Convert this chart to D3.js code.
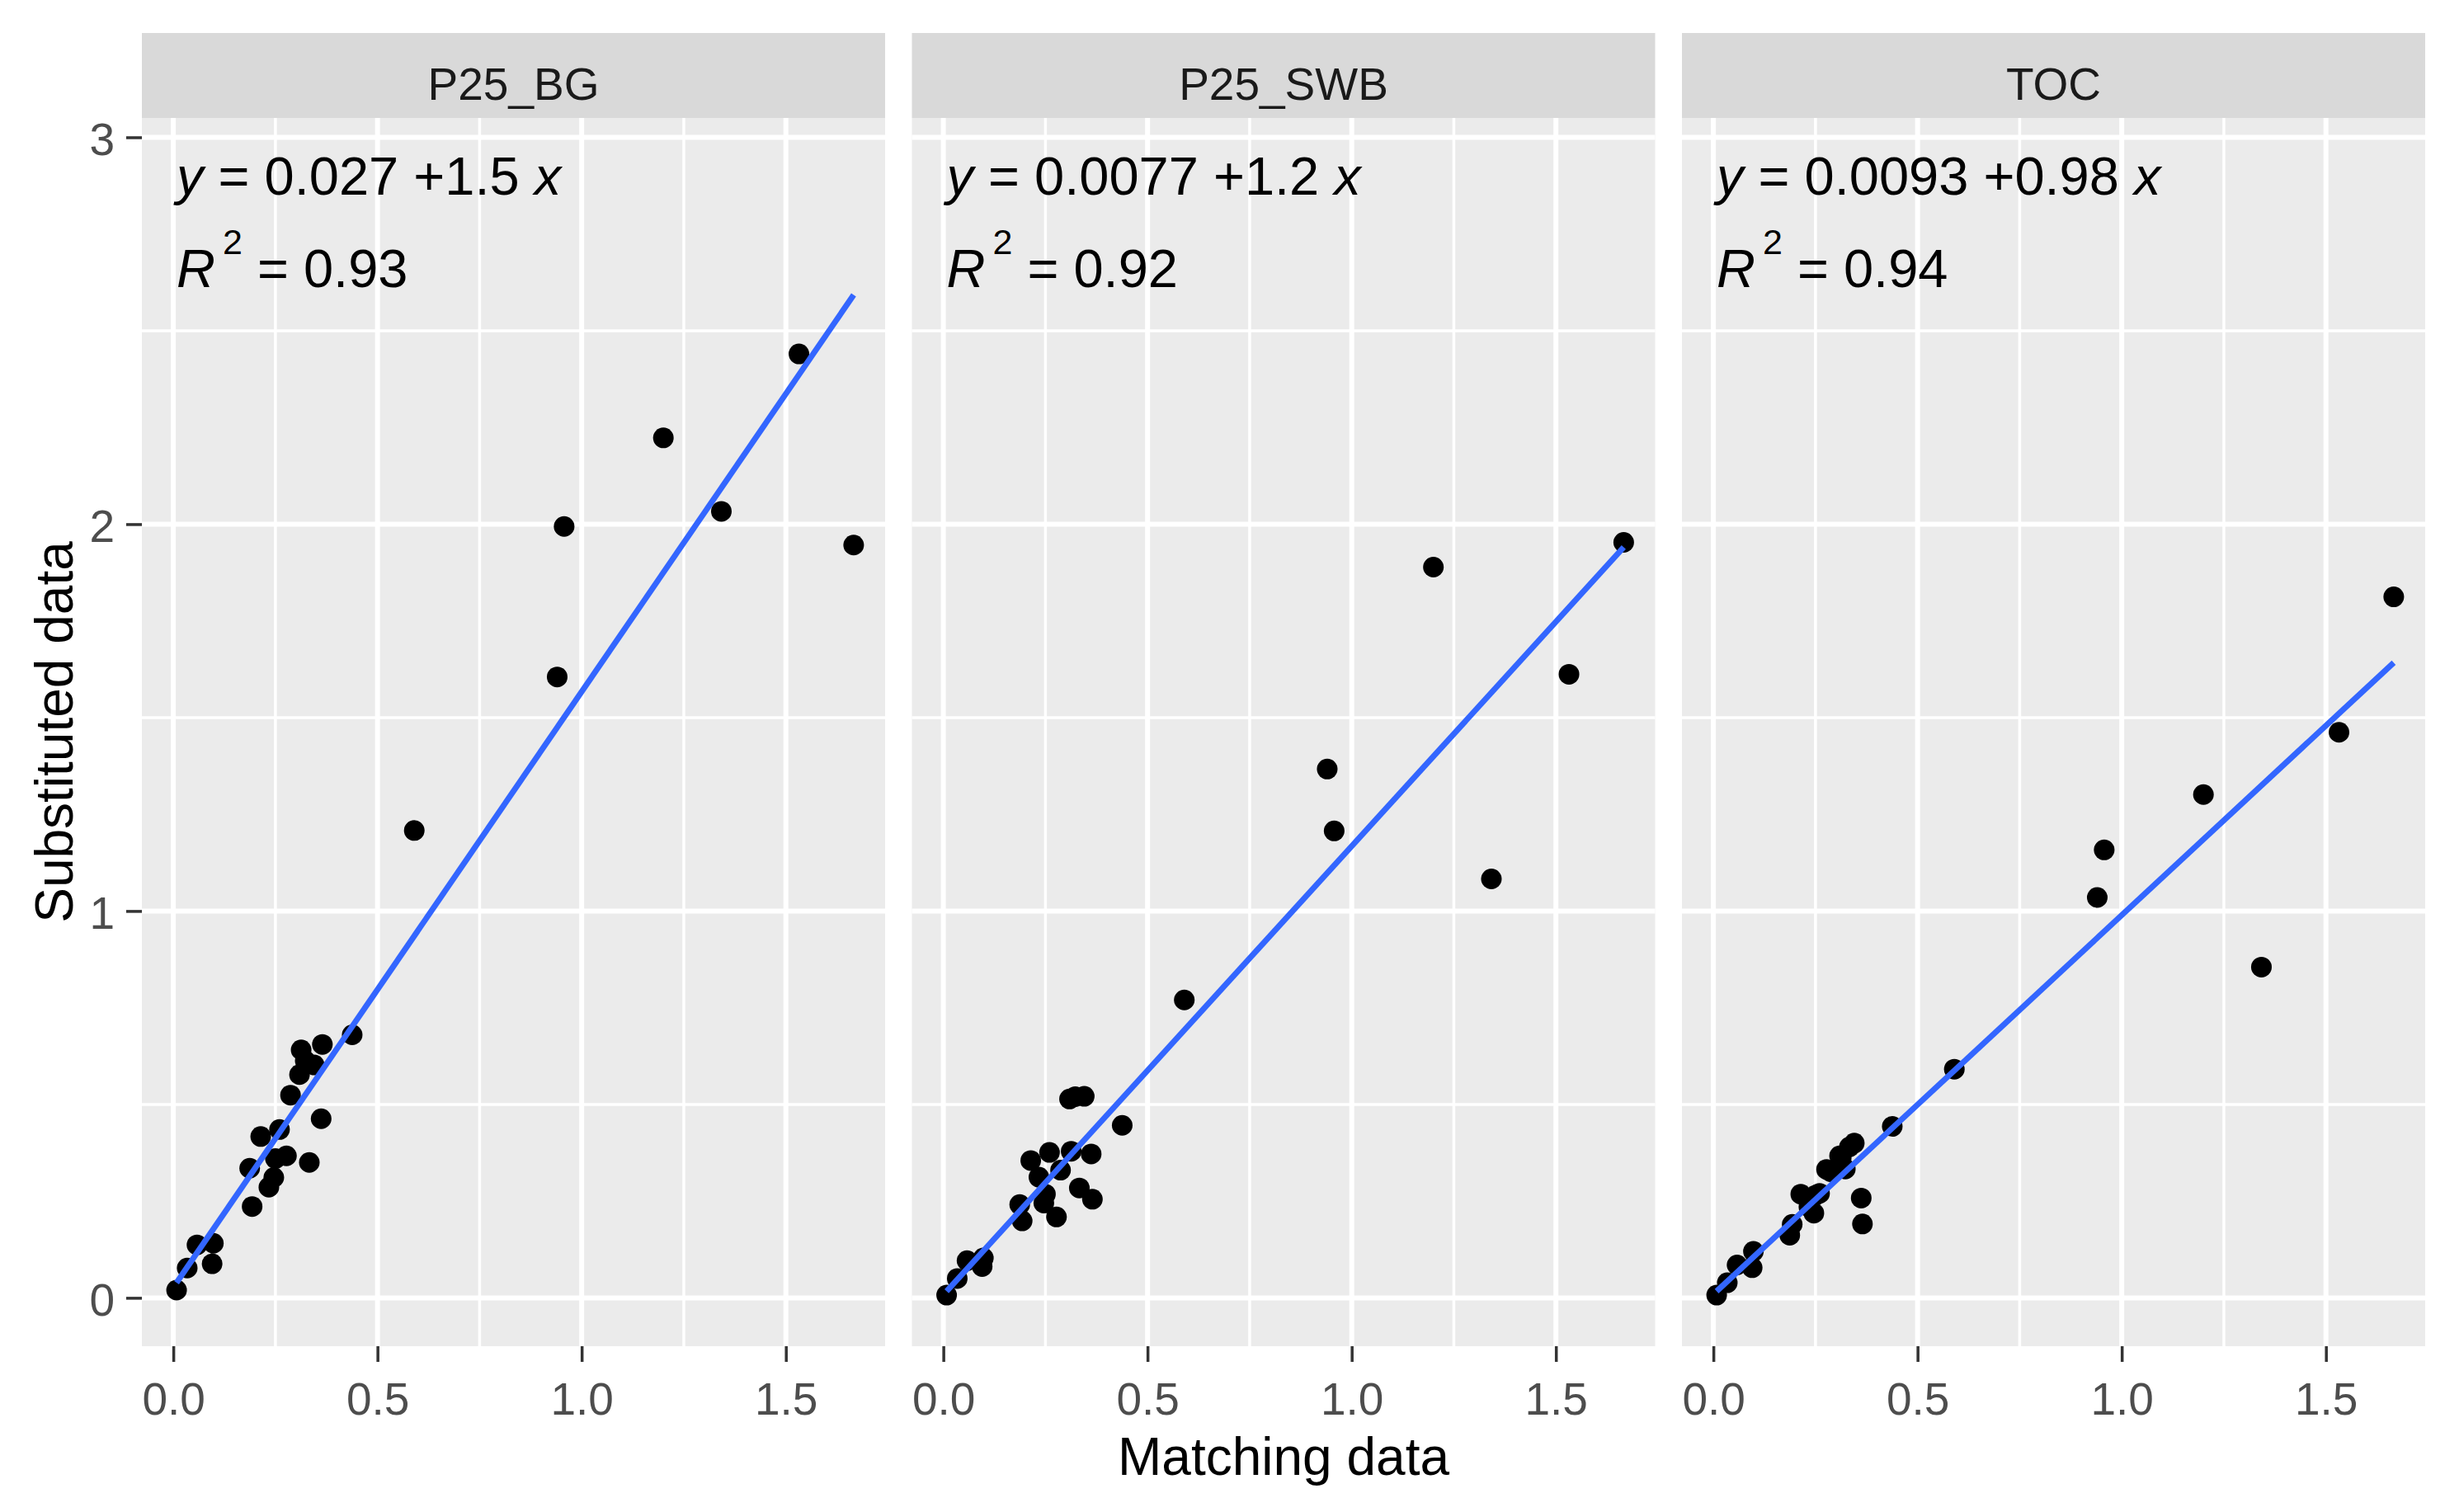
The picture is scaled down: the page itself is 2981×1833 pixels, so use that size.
<!DOCTYPE html>
<html>
<head>
<meta charset="utf-8">
<script src="https://cdn.jsdelivr.net/npm/d3@7"></script>
<style>
  body { margin: 0; background: #fff; }
  svg text { font-family: "Liberation Sans", Arial, sans-serif; white-space: pre; }
</style>
</head>
<body>
<svg id="chart"></svg>
<script>
// facet names
const facets = ['P25_BG', 'P25_SWB', 'TOC'];

// x values (shared by all facets)
const matchingData = [0.008, 0.034, 0.058, 0.095, 0.098, 0.187, 0.193, 0.214, 0.234, 0.246,
    0.25, 0.26, 0.277, 0.287, 0.309, 0.313, 0.323, 0.333, 0.345, 0.362,
    0.365, 0.438, 0.59, 0.94, 0.957, 1.2, 1.342, 1.532, 1.666];

// y values per facet
const substitutedBG = [0.02, 0.077, 0.137, 0.088, 0.141, 0.335, 0.236, 0.417, 0.286, 0.311,
    0.36, 0.435, 0.367, 0.524, 0.577, 0.641, 0.613, 0.35, 0.602, 0.463,
    0.655, 0.68, 1.208, 1.605, 1.994, 2.223, 2.033, 2.44, 1.946];
const substitutedSWB = [0.007, 0.05, 0.096, 0.081, 0.103, 0.241, 0.199, 0.355, 0.312, 0.245,
    0.268, 0.376, 0.209, 0.33, 0.514, 0.379, 0.52, 0.284, 0.521, 0.372,
    0.255, 0.446, 0.77, 1.367, 1.207, 1.889, 1.083, 1.612, 1.953];
const substitutedTOC = [0.007, 0.039, 0.085, 0.078, 0.12, 0.162, 0.19, 0.268, 0.235, 0.219,
    0.265, 0.27, 0.332, 0.326, 0.367, 0.361, 0.333, 0.39, 0.4, 0.258,
    0.191, 0.443, 0.591, 1.035, 1.158, 1.301, 0.855, 1.462, 1.812];

// fitted lines and labels
const intercepts = [0.027, 0.0077, 0.0093];
const slopes = [1.54, 1.16, 0.98];
const rSquared = [0.93, 0.92, 0.94];

// axis breaks
const xTicks = [0, 0.5, 1, 1.5];
const yTicks = [0, 1, 2, 3];

const seriesY = [substitutedBG, substitutedSWB, substitutedTOC];

const width = 2981;
const height = 1833;

// layout (facet_wrap style)
const firstLeft = 172;
const panelW = 901;
const panelGap = 32.5;
const stripTop = 40;
const panelTop = 143;
const panelBottom = 1632;
const panelH = panelBottom - panelTop;

const svg = d3.select('#chart')
    .attr('width', width)
    .attr('height', height)
    .attr('viewBox', [0, 0, width, height]);

svg.append('rect')
    .attr('width', width)
    .attr('height', height)
    .attr('fill', '#fff');

const x = d3.scaleLinear().domain([-0.077, 1.743]).range([0, panelW]);
const y = d3.scaleLinear().domain([-0.125, 3.05]).range([panelH, 0]);

// minor breaks sit halfway between the major ones
const xMinor = d3.pairs(xTicks).map(([a, b]) => (a + b) / 2);
const yMinor = d3.pairs(yTicks).map(([a, b]) => (a + b) / 2);

const fmt2 = d3.format('.2');

facets.forEach((name, i) => {
    const left = firstLeft + i * (panelW + panelGap);
    const g = svg.append('g').attr('transform', `translate(${left},${panelTop})`);

    // strip
    svg.append('rect')
        .attr('x', left)
        .attr('y', stripTop)
        .attr('width', panelW)
        .attr('height', panelTop - stripTop)
        .attr('fill', '#d9d9d9');
    svg.append('text')
        .attr('x', left + panelW / 2)
        .attr('y', 121)
        .attr('text-anchor', 'middle')
        .attr('font-size', 55)
        .attr('fill', '#1a1a1a')
        .text(name);

    // panel background + grid
    g.append('rect')
        .attr('width', panelW)
        .attr('height', panelH)
        .attr('fill', '#ebebeb');

    g.selectAll('.xminor').data(xMinor).join('line')
        .attr('x1', d => x(d)).attr('x2', d => x(d))
        .attr('y1', 0).attr('y2', panelH)
        .attr('stroke', '#fff').attr('stroke-width', 3.5);
    g.selectAll('.yminor').data(yMinor).join('line')
        .attr('y1', d => y(d)).attr('y2', d => y(d))
        .attr('x1', 0).attr('x2', panelW)
        .attr('stroke', '#fff').attr('stroke-width', 3.5);
    g.selectAll('.xmajor').data(xTicks).join('line')
        .attr('x1', d => x(d)).attr('x2', d => x(d))
        .attr('y1', 0).attr('y2', panelH)
        .attr('stroke', '#fff').attr('stroke-width', 6);
    g.selectAll('.ymajor').data(yTicks).join('line')
        .attr('y1', d => y(d)).attr('y2', d => y(d))
        .attr('x1', 0).attr('x2', panelW)
        .attr('stroke', '#fff').attr('stroke-width', 6);

    // points
    const pts = matchingData.map((mx, k) => [mx, seriesY[i][k]]);
    g.selectAll('circle').data(pts).join('circle')
        .attr('cx', d => x(d[0]))
        .attr('cy', d => y(d[1]))
        .attr('r', 12.5)
        .attr('fill', '#000');

    // regression line over the data range
    const [x0, x1] = d3.extent(matchingData);
    const fit = v => intercepts[i] + slopes[i] * v;
    g.append('path')
        .datum([x0, x1])
        .attr('d', d3.line().x(d => x(d)).y(d => y(fit(d))))
        .attr('stroke', '#3366ff')
        .attr('stroke-width', 7)
        .attr('fill', 'none');

    // equation label
    const eq = svg.append('text')
        .attr('x', left + 42)
        .attr('y', 236)
        .attr('font-size', 65)
        .attr('fill', '#000');
    eq.append('tspan').attr('font-style', 'italic').text('y');
    eq.append('tspan').text(` = ${fmt2(intercepts[i])} +${fmt2(slopes[i])} `);
    eq.append('tspan').attr('font-style', 'italic').text('x');

    const r2 = svg.append('text')
        .attr('x', left + 42)
        .attr('y', 348)
        .attr('font-size', 65)
        .attr('fill', '#000');
    r2.append('tspan').attr('font-style', 'italic').text('R');
    r2.append('tspan').attr('font-size', 43).attr('dx', 9).attr('dy', -40).text('2');
    r2.append('tspan').attr('dy', 40).text(` = ${rSquared[i]}`);

    // x axis
    const xAxis = svg.append('g')
        .attr('transform', `translate(${left},${panelBottom})`)
        .call(d3.axisBottom(x).tickValues(xTicks).tickFormat(d3.format('.1f'))
            .tickSize(19).tickSizeOuter(0).tickPadding(25));
    xAxis.select('.domain').remove();
    xAxis.selectAll('.tick line').attr('stroke', '#333').attr('stroke-width', 3.5);
    xAxis.selectAll('.tick text')
        .attr('font-size', 55)
        .attr('font-family', '"Liberation Sans", Arial, sans-serif')
        .attr('fill', '#4d4d4d');

    // y axis only on first panel
    if (i === 0) {
        const yAxis = svg.append('g')
            .attr('transform', `translate(${left},${panelTop})`)
            .call(d3.axisLeft(y).tickValues(yTicks).tickFormat(d3.format('d'))
                .tickSize(19).tickSizeOuter(0).tickPadding(14));
        yAxis.select('.domain').remove();
        yAxis.selectAll('.tick line').attr('stroke', '#333').attr('stroke-width', 3.5);
        yAxis.selectAll('.tick text')
            .attr('font-size', 55)
            .attr('dy', '0.38em')
            .attr('font-family', '"Liberation Sans", Arial, sans-serif')
            .attr('fill', '#4d4d4d');
    }
});

// axis titles
const plotLeft = firstLeft;
const plotRight = firstLeft + 3 * panelW + 2 * panelGap;

svg.append('text')
    .attr('x', (plotLeft + plotRight) / 2)
    .attr('y', 1788)
    .attr('text-anchor', 'middle')
    .attr('font-size', 64)
    .attr('fill', '#000')
    .text('Matching data');

svg.append('text')
    .attr('transform', `translate(88,${(panelTop + panelBottom) / 2}) rotate(-90)`)
    .attr('text-anchor', 'middle')
    .attr('font-size', 64)
    .attr('fill', '#000')
    .text('Substituted data');
</script>
</body>
</html>
